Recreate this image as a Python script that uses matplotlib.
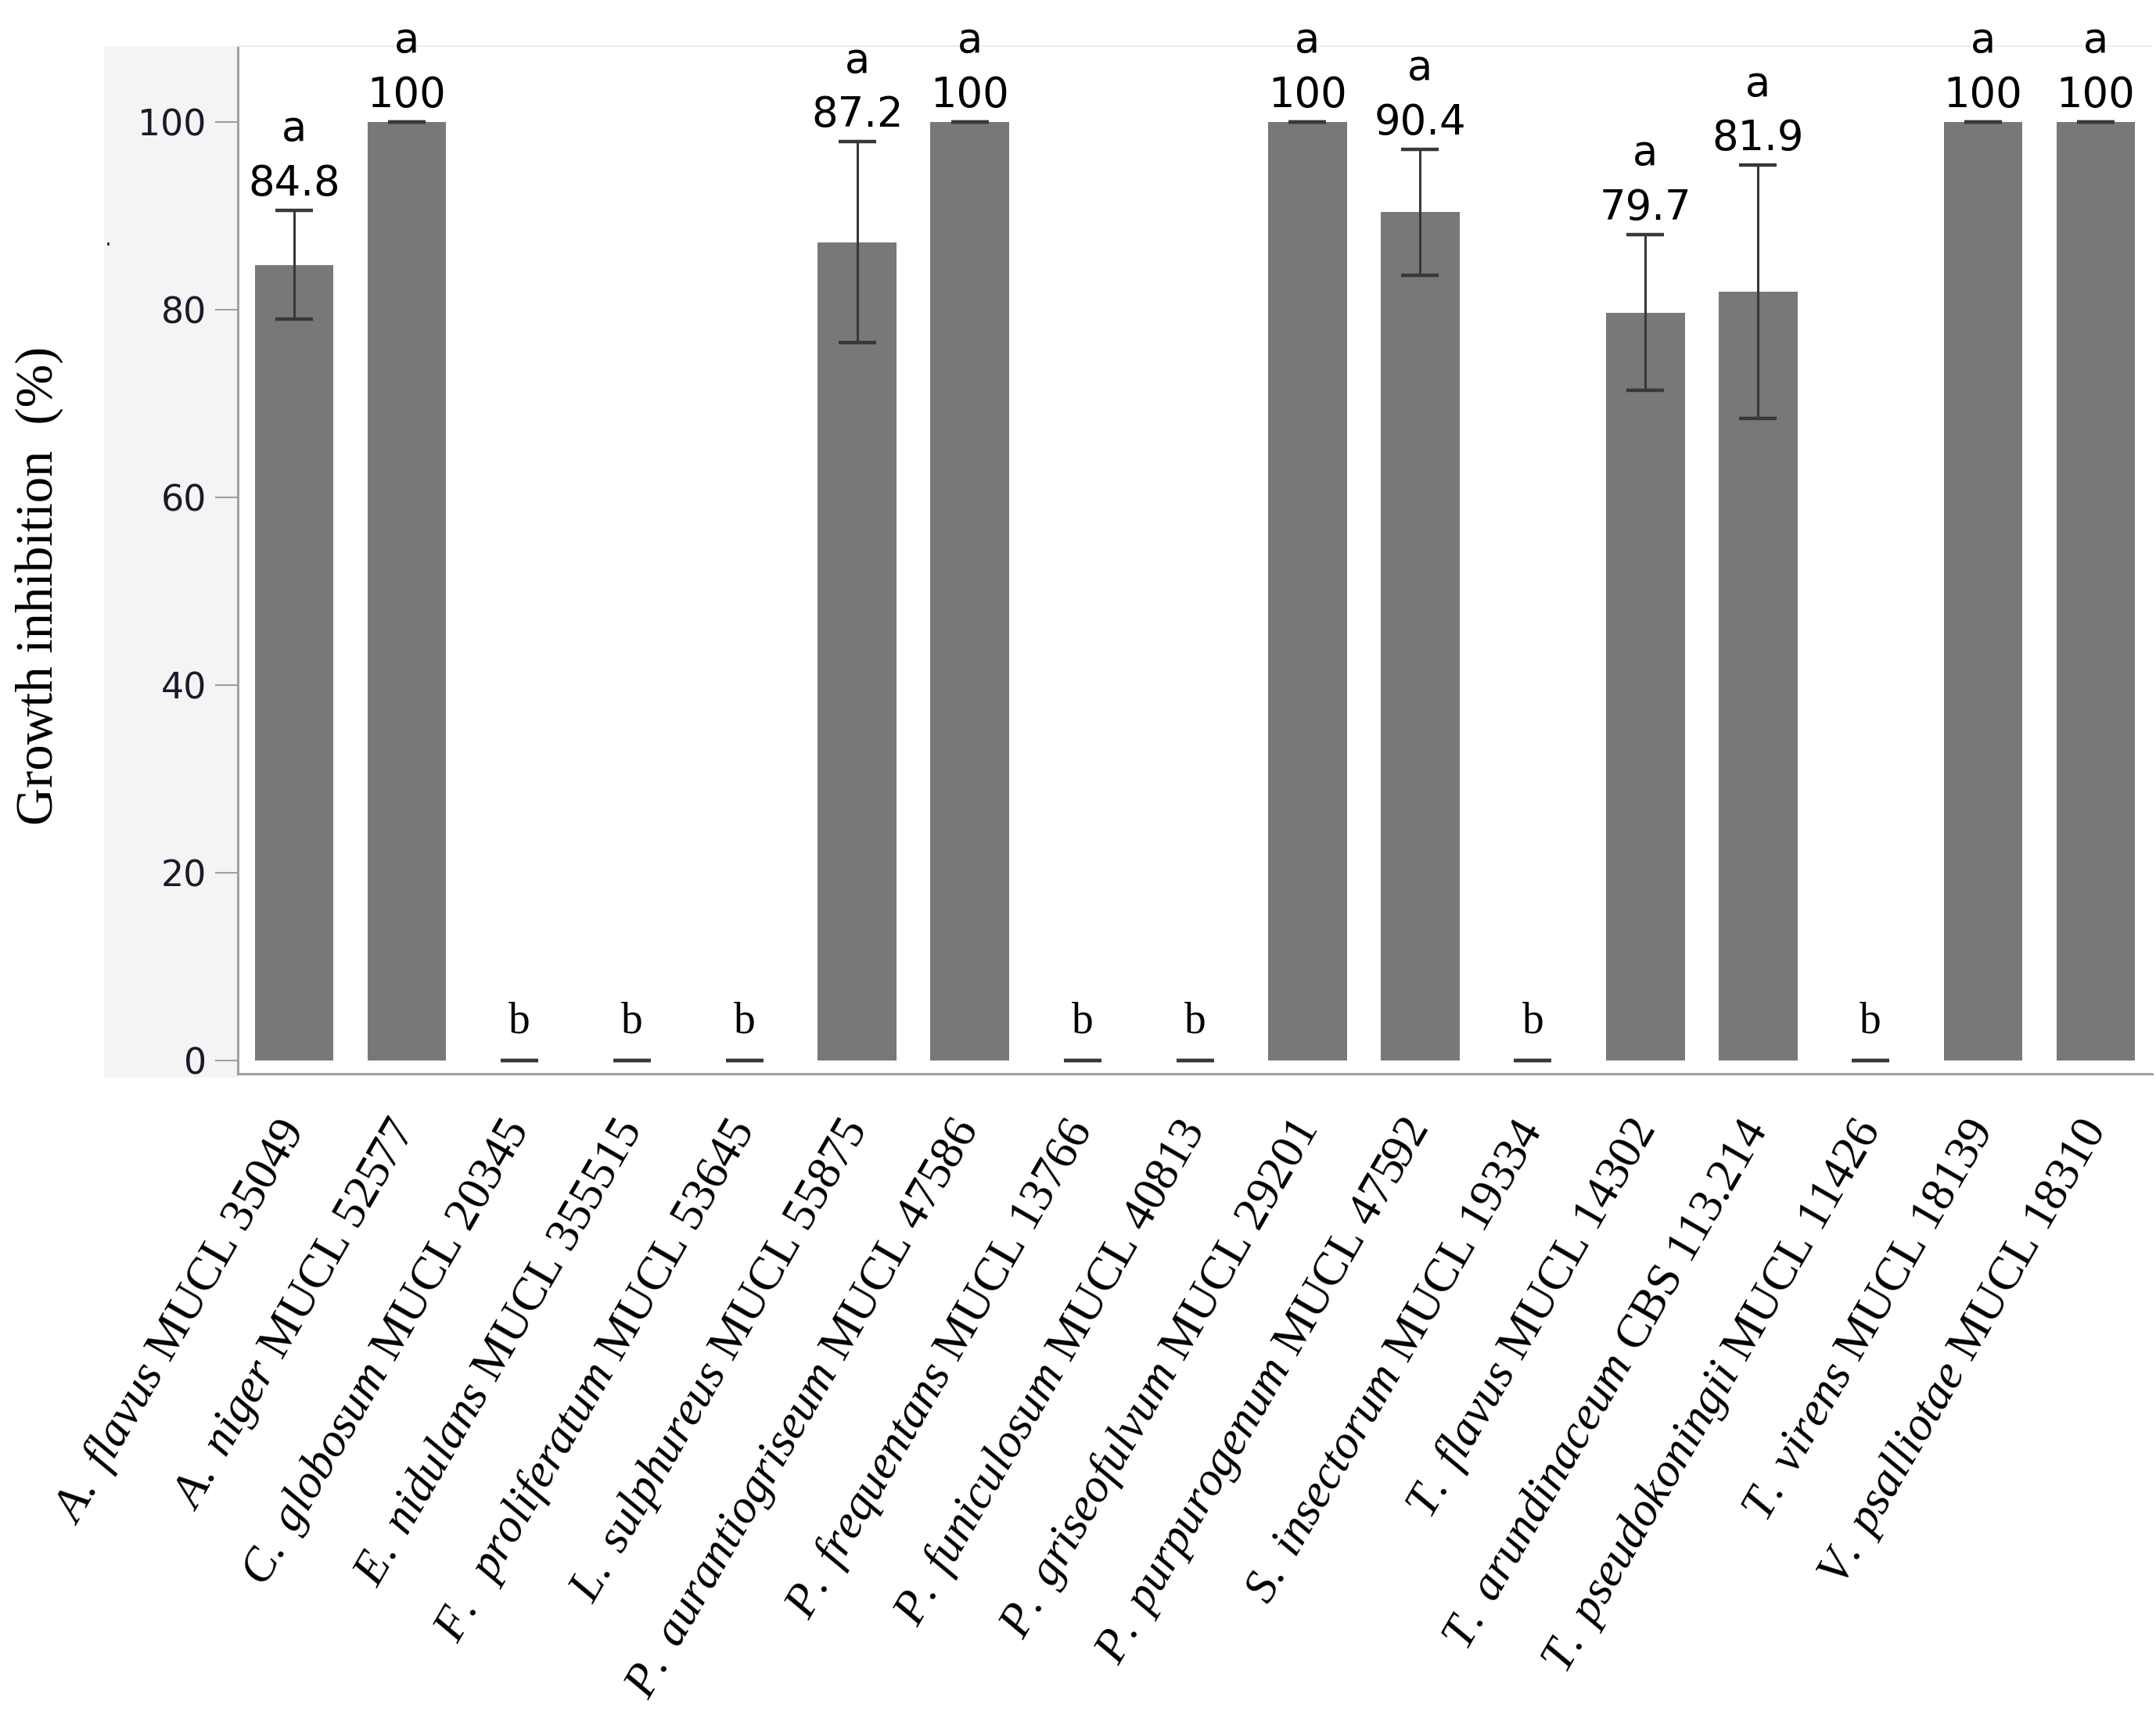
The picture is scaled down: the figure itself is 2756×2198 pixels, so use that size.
import matplotlib

matplotlib.use("Agg")
import matplotlib.pyplot as plt
from matplotlib.patches import Rectangle

# --- data ---
species = [
    "A. flavus", "A. niger", "C. globosum", "E. nidulans", "F.  proliferatum",
    "L. sulphureus", "P. aurantiogriseum", "P. frequentans", "P. funiculosum",
    "P. griseofulvum", "P. purpurogenum", "S. insectorum", "T. flavus",
    "T. arundinaceum", "T. pseudokoningii", "T. virens", "V. psalliotae",
]
strains = [
    "MUCL 35049", "MUCL 52577", "MUCL 20345", "MUCL 355515", "MUCL 53645",
    "MUCL 55875", "MUCL 47586", "MUCL 13766", "MUCL 40813", "MUCL 29201",
    "MUCL 47592", "MUCL 19334", "MUCL 14302", "CBS 113.214", "MUCL 11426",
    "MUCL 18139", "MUCL 18310",
]
inhibition = [84.8, 100, 0, 0, 0, 87.2, 100, 0, 0, 100, 90.4, 0, 79.7, 81.9, 0, 100, 100]
sd = [5.8, 0, 0, 0, 0, 10.7, 0, 0, 0, 0, 6.7, 0, 8.3, 13.5, 0, 0, 0]
letters = ["a", "a", "b", "b", "b", "a", "a", "b", "b", "a", "a", "b", "a", "a", "b", "a", "a"]
yticks = [0, 20, 40, 60, 80, 100]

plt.rcParams["mathtext.fontset"] = "custom"
plt.rcParams["mathtext.rm"] = "Liberation Serif"
plt.rcParams["mathtext.it"] = "Liberation Serif:italic"

W, H = 2756, 2198
fig = plt.figure(figsize=(W / 100, H / 100), dpi=100)
fig.patch.set_facecolor("white")

# light panel behind the y tick labels
fig.add_artist(Rectangle((133 / W, 1 - 1378 / H), (304 - 133) / W, (1378 - 59) / H,
                         transform=fig.transFigure, facecolor="#f4f4f4", edgecolor="none", zorder=0))
fig.text(138 / W, 1 - 306 / H, ".", fontsize=20, color="#333333", ha="center", va="center")

ax = fig.add_axes([304 / W, 1 - 1373 / H, (2751 - 304) / W, (1373 - 59) / H])
ax.set_facecolor("white")
x = list(range(len(species)))
ax.bar(x, inhibition, width=0.7, color="#787878", zorder=2)
ax.errorbar(x, inhibition, yerr=sd, fmt="none", ecolor="#383838", elinewidth=2.2,
            capsize=17, capthick=3.2, zorder=3)

for xi, v, e, letter in zip(x, inhibition, sd, letters):
    if v > 0:
        base = v + e + 1.6
        ax.text(xi, base, f"{v:g}", ha="center", va="baseline", fontsize=38,
                family="DejaVu Sans", color="black", clip_on=False)
        ax.text(xi, base + 5.8, letter, ha="center", va="baseline", fontsize=38,
                family="DejaVu Sans", color="black", clip_on=False)
    else:
        ax.text(xi, 3.0, letter, ha="center", va="baseline", fontsize=40,
                family="Liberation Serif", color="black")

ax.set_xlim(-0.5, 16.5)
ax.set_ylim(-1.4, 108.1)
ax.set_yticks(yticks)
ax.set_yticklabels([str(t) for t in yticks], family="DejaVu Sans", fontsize=33, color="#1a1a2a")
ax.tick_params(axis="y", length=21, width=1.5, color="#a0a0a0", pad=8)

labels = [f"$\\mathit{{{s.replace(' ', chr(92) + ' ')}}}$ {m}" for s, m in zip(species, strains)]
ax.set_xticks(x)
ax.set_xticklabels(labels, rotation=60, ha="right", va="center", rotation_mode="anchor",
                   family="Liberation Serif", fontsize=44)
ax.tick_params(axis="x", length=0, pad=46)

for side in ["left", "bottom"]:
    ax.spines[side].set_color("#a0a0a0")
    ax.spines[side].set_linewidth(2.2)
ax.spines["top"].set_color("#ececec")
ax.spines["top"].set_linewidth(1.5)
ax.spines["right"].set_visible(False)

fig.text(50 / W, 1 - 749 / H, "Growth inhibition  (%)", rotation=90, ha="center", va="center",
         family="Liberation Serif", fontsize=48)

fig.savefig("out.png", dpi=100)
